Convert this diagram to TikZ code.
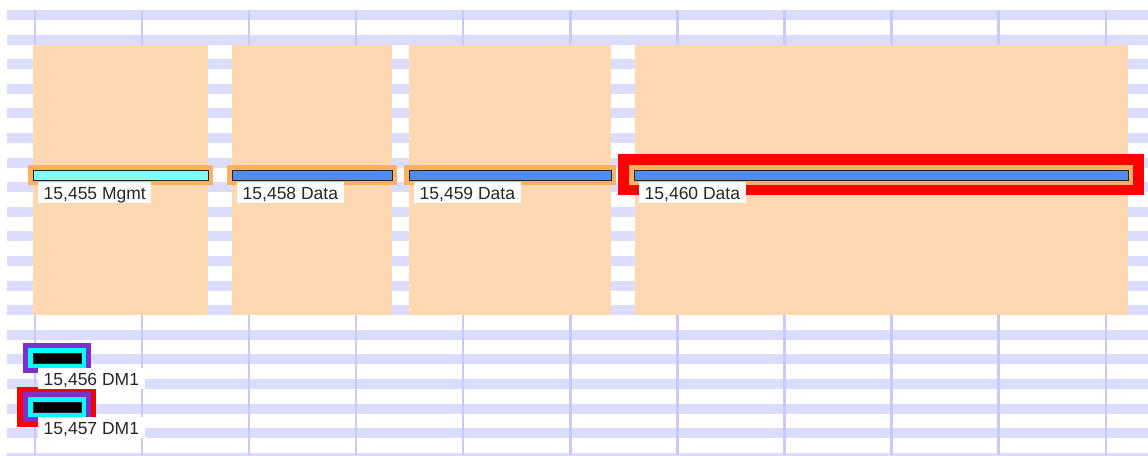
\documentclass[tikz,border=0pt]{standalone}
\usepackage{fontspec}
\setmainfont{Liberation Sans}

\definecolor{gridband}{HTML}{DCDCFF}
\definecolor{gridline}{HTML}{CACAFA}
\definecolor{slotfill}{HTML}{FED8B0}
\definecolor{halo}{HTML}{FDB062}
\definecolor{mgmtcyan}{HTML}{80FFFF}
\definecolor{datablue}{HTML}{4F8EF0}
\definecolor{dmpurple}{HTML}{7B30CC}
\definecolor{selcyan}{HTML}{00FFFF}

\tikzset{
  bar/.style={draw=black!85, line width=1pt},
  tag/.style={fill=white, anchor=north west, inner xsep=5.5pt, inner ysep=2pt,
    text height=15.5pt, text depth=1.5pt, text=black!85,
    font=\fontsize{17.5}{20}\selectfont},
}

\begin{document}
\begin{tikzpicture}[x=1pt, y=-1pt]
    \useasboundingbox (0,0) rectangle (1148,455);
    \fill[white] (0,0) rectangle (1148,455);

    % grid rows and columns
    \foreach \k in {0,...,18}
      \fill[gridband] (7,{10+24.6*\k}) rectangle (1148,{20+24.6*\k});
    \foreach \k in {0,...,10}
      \fill[gridline] ({33.5+107.1*\k},10) rectangle ({36+107.1*\k},455);

    % slots
    \foreach \xa/\xb in {33/208, 232/392, 409/611, 635/1128}
      \fill[slotfill] (\xa,45) rectangle (\xb,315);

    \fill[red] (618,154) rectangle (1144,195);

    \foreach \xa/\xb/\c/\n/\t in {33/208/mgmtcyan/m455/{15,455 Mgmt},
        232/392/datablue/d458/{15,458 Data}, 409/611/datablue/d459/{15,459 Data},
        634/1128/datablue/d460/{15,460 Data}} {
      \fill[halo] (\xa-5,165) rectangle (\xb+5,185);
      \filldraw[bar, fill=\c] (\xa,170.5) rectangle (\xb,180);
      \node[tag] (\n) at (\xa+5,182) {\t};
    }

    % DM1 items
    \fill[red] (17,387) rectangle (96,427);
    \foreach \yb/\n/\t in {353/m456/{15,456 DM1}, 402/m457/{15,457 DM1}} {
      \fill[dmpurple] (23,\yb-10) rectangle (91,\yb+20);
      \fill[selcyan] (28,\yb-5) rectangle (86,\yb+15);
      \filldraw[bar, fill=black] (33,\yb) rectangle (81,\yb+10);
      \node[tag] (\n) at (38,\yb+14.7) {\t};
    }
\end{tikzpicture}
\end{document}
